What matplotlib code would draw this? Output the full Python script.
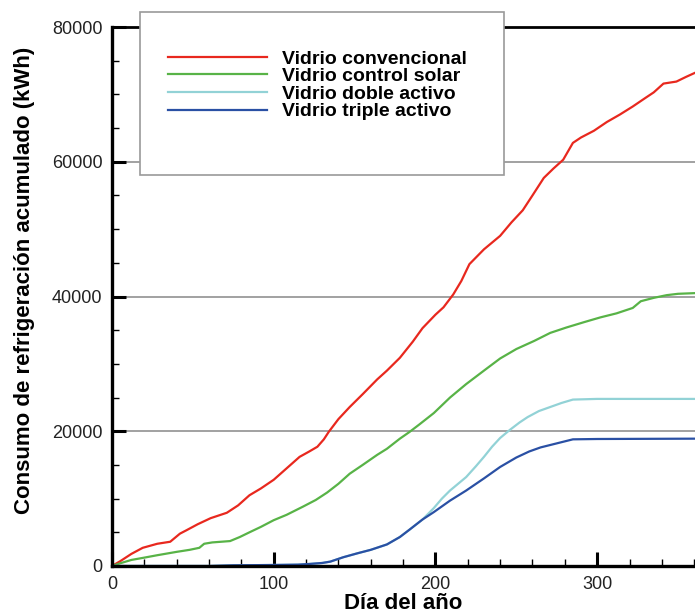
import matplotlib
matplotlib.use("Agg")
import matplotlib.pyplot as plt
from matplotlib.patches import Rectangle
from matplotlib.ticker import MultipleLocator

plt.rcParams['font.family'] = ['Liberation Sans', 'DejaVu Sans']

dias_conv = [0, 5, 12, 19, 28, 36, 42, 46, 53, 61, 71, 78, 85, 92, 100, 108, 116,
             122, 127, 131, 134, 140, 147, 155, 164, 170, 178, 186, 192, 200, 205,
             211, 216, 221, 230, 240, 247, 254, 260, 267, 273, 279, 285, 290, 298,
             306, 314, 322, 330, 335, 341, 349, 355, 360.5]
conv = [0, 700, 1800, 2700, 3300, 3600, 4800, 5300, 6200, 7100, 7900, 9000, 10500,
        11500, 12800, 14500, 16200, 17000, 17700, 18800, 19900, 21800, 23600, 25500,
        27700, 29000, 30900, 33300, 35300, 37300, 38400, 40300, 42300, 44800, 47000,
        49000, 51000, 52800, 55000, 57600, 59000, 60300, 62800, 63600, 64600, 65900,
        67000, 68200, 69500, 70300, 71600, 71900, 72600, 73200]

dias_solar = [0, 5, 12, 19, 28, 40, 48, 54, 57, 62, 73, 79, 85, 92, 100, 108, 118,
              126, 133, 140, 147, 155, 164, 170, 178, 184, 190, 199, 209, 219, 230,
              240, 250, 261, 271, 281, 292, 302, 312, 322, 327, 335, 343, 350, 360.5]
solar = [0, 400, 900, 1200, 1600, 2100, 2400, 2700, 3300, 3500, 3700, 4300, 5000,
         5800, 6800, 7600, 8800, 9800, 10900, 12200, 13700, 15000, 16500, 17400,
         18900, 19900, 21000, 22700, 25000, 27000, 29000, 30800, 32200, 33400, 34600,
         35400, 36200, 36900, 37500, 38300, 39300, 39800, 40200, 40400, 40500]

dias_doble = [0, 60, 75, 100, 115, 122, 130, 135, 143, 152, 160, 170, 178, 184, 192,
              199, 204, 209, 214, 219, 225, 230, 235, 240, 246, 252, 257, 264, 271,
              278, 285, 300, 360.5]
doble = [0, 0, 100, 150, 200, 300, 450, 650, 1300, 1900, 2400, 3200, 4300, 5400, 6900,
         8600, 10000, 11200, 12200, 13200, 14800, 16200, 17700, 19000, 20200, 21300,
         22100, 23000, 23600, 24200, 24700, 24800, 24800]

dias_triple = [0, 60, 75, 100, 115, 122, 130, 135, 143, 152, 160, 170, 178, 184, 192,
               199, 209, 219, 230, 240, 250, 258, 265, 275, 285, 300, 360.5]
triple = [0, 0, 100, 150, 200, 300, 450, 650, 1300, 1900, 2400, 3200, 4300, 5400, 6900,
          8000, 9700, 11200, 13000, 14700, 16100, 17000, 17600, 18200, 18800, 18850, 18900]

fig = plt.figure(figsize=(6.95, 6.14), dpi=100)
ax = fig.add_axes([112 / 695, 1 - 566 / 614, 1 - 112 / 695, (566 - 27) / 614])

ax.plot(dias_conv, conv, color='#e8281e', lw=1.6, label='Vidrio convencional')
ax.plot(dias_solar, solar, color='#58b347', lw=1.6, label='Vidrio control solar')
ax.plot(dias_doble, doble, color='#92d2d6', lw=1.6, label='Vidrio doble activo')
ax.plot(dias_triple, triple, color='#2a50a4', lw=1.6, label='Vidrio triple activo')

ax.set_xlim(0, 360.5)
ax.set_ylim(0, 80000)
ax.xaxis.set_major_locator(MultipleLocator(100))
ax.xaxis.set_minor_locator(MultipleLocator(20))
ax.yaxis.set_major_locator(MultipleLocator(20000))
ax.yaxis.set_minor_locator(MultipleLocator(5000))

for y in [20000, 40000, 60000]:
    ax.axhline(y, color='#9a9a9a', lw=1.3, zorder=1)

ax.tick_params(which='major', direction='in', length=10, width=2.2,
               labelsize=13, labelcolor='#222222', pad=7)
ax.tick_params(which='minor', direction='in', length=5, width=1)
ax.spines['right'].set_visible(False)
ax.spines['left'].set_linewidth(2.4)
ax.spines['bottom'].set_linewidth(2.4)
ax.spines['top'].set_linewidth(2)

ax.set_xlabel('Día del año', fontsize=16, fontweight='bold')
ax.set_ylabel('Consumo de refrigeración acumulado (kWh)', fontsize=16, fontweight='bold')
ax.xaxis.set_label_coords(0.5, -0.05)
ax.yaxis.set_label_coords(-0.132, 0.53)

# legend box sits over the top edge of the axes
box = Rectangle((140 / 695, 1 - 175 / 614), 364 / 695, 163 / 614,
                transform=fig.transFigure, facecolor='white',
                edgecolor='#9a9a9a', lw=1.2, zorder=3)
fig.patches.append(box)

handles, labels = ax.get_legend_handles_labels()
leg = fig.legend(handles, labels, loc='upper left', bbox_to_anchor=(168 / 695, 1 - 50 / 614),
                 frameon=False, prop={'weight': 'bold', 'size': 14},
                 handlelength=5.1, handletextpad=0.77, labelspacing=0.0,
                 borderpad=0, borderaxespad=0)
leg.set_zorder(4)

fig.savefig('out.png', dpi=100)
